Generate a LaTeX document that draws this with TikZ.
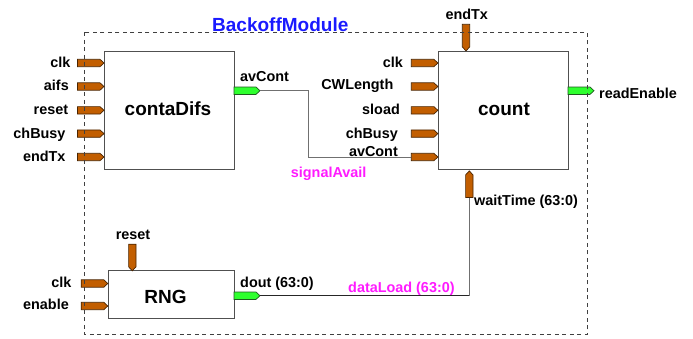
\documentclass[tikz,border=0pt]{standalone}
\usepackage{fontspec}
\setmainfont{Liberation Sans}
\definecolor{portorange}{HTML}{C25E00}
\definecolor{portedge}{HTML}{4A2400}
\definecolor{portgreen}{HTML}{2EFF2E}
\definecolor{greenedge}{HTML}{1E5A1E}
\definecolor{boxedge}{HTML}{505050}
\definecolor{wiregray}{HTML}{707070}
\definecolor{titleblue}{HTML}{1A1AFF}
\definecolor{sigmagenta}{HTML}{FF1AFF}
\tikzset{
  portin/.style={fill=portorange, draw=portedge, line width=0.7pt},
  portout/.style={fill=portgreen, draw=greenedge, line width=0.7pt},
  inport/.pic={\draw[portin] (-13.3,-3.7) -- (9.3,-3.7) -- (13.3,0) -- (9.3,3.7) -- (-13.3,3.7) -- cycle;
    \coordinate (-tip) at (13.3,0); \coordinate (-tail) at (-13.3,0);},
  outport/.pic={\draw[portout] (-13,-3.7) -- (9,-3.7) -- (13,0) -- (9,3.7) -- (-13,3.7) -- cycle;
    \coordinate (-tip) at (13,0); \coordinate (-tail) at (-13,0);},
  lbl/.style={font=\bfseries\fontsize{14.4}{16}\selectfont, inner sep=0pt},
  bigt/.style={font=\bfseries\fontsize{19}{22}\selectfont, inner sep=0pt},
  sig/.style={lbl, text=sigmagenta},
  blockbox/.style={draw=boxedge, line width=1pt, fill=white, inner sep=0pt},
  wire/.style={draw=wiregray, line width=1pt},
  bwire/.style={draw=black!85, line width=1pt},
  moduleborder/.style={draw=black!75, line width=0.9pt, dash pattern=on 4pt off 3.5pt},
}
\begin{document}
\begin{tikzpicture}[x=1pt,y=-1pt]
\useasboundingbox (0,0) rectangle (693,338);

% blocks
\node[blockbox, minimum width=130pt, minimum height=117.6pt] (cd) at (169.3,110.5) {};
\node[blockbox, minimum width=130pt, minimum height=117.6pt] (cnt) at (503.3,110.5) {};
\node[blockbox, minimum width=126pt, minimum height=47.6pt] (rng) at (171.3,294.5) {};
\node[bigt, anchor=base] (cdt) at (168,115) {contaDifs};
\node[bigt, anchor=base] (cntt) at (504,115) {count};
\node[bigt, anchor=base] (rngt) at (165.5,303.3) {RNG};

% title
\node[bigt, text=titleblue, anchor=base west] (title) at (212,31.7) {BackoffModule};

% contaDifs inputs
\pic (cdclk) at (90.7,63) {inport};
\pic (cdaifs) at (90.7,86.5) {inport};
\pic (cdreset) at (90.7,110.3) {inport};
\pic (cdbusy) at (90.7,133.6) {inport};
\pic (cdend) at (90.7,157) {inport};
\node[lbl, anchor=base east] (lcdclk) at (70.7,67.3) {clk};
\node[lbl, anchor=base east] (lcdaifs) at (69,90.8) {aifs};
\node[lbl, anchor=base east] (lcdreset) at (68.3,114.8) {reset};
\node[lbl, anchor=base east] (lcdbusy) at (65.7,138) {chBusy};
\node[lbl, anchor=base east] (lcdend) at (65.7,161.8) {endTx};

% contaDifs output
\pic (cdav) at (247,90.7) {outport};
\node[lbl, anchor=base west] (lcdav) at (240,81) {avCont};

% count inputs
\pic (cclk) at (424.6,63) {inport};
\pic (ccw) at (424.6,86.5) {inport};
\pic (csload) at (424.6,110.3) {inport};
\pic (cbusy) at (424.6,133.6) {inport};
\pic (cav) at (424.6,157) {inport};
\node[lbl, anchor=base east] (lcclk) at (403,67) {clk};
\node[lbl, anchor=base east] (lccw) at (393.5,89.5) {CWLength};
\node[lbl, anchor=base east] (lcsload) at (400,114.5) {sload};
\node[lbl, anchor=base east] (lcbusy) at (398,138) {chBusy};
\node[lbl, anchor=base east] (lcav) at (398,156) {avCont};

% count top / bottom / right
\pic[rotate=-90] (cend) at (466,37.6) {inport};
\node[lbl, anchor=base] (lcend) at (466.7,19.3) {endTx};
\pic[rotate=90] (cwait) at (469.3,184.2) {inport};
\node[lbl, anchor=base west] (lcwait) at (474,205.5) {waitTime (63:0)};
\pic (cread) at (581,90.7) {outport};
\node[lbl, anchor=base west] (lcread) at (599,98.5) {readEnable};

% RNG ports
\pic (rclk) at (94.5,283.5) {inport};
\pic (ren) at (94.5,306) {inport};
\node[lbl, anchor=base east] (lrclk) at (71.7,287.5) {clk};
\node[lbl, anchor=base east] (lren) at (69,309.5) {enable};
\pic[rotate=-90] (rreset) at (132.3,257.5) {inport};
\node[lbl, anchor=base] (lrreset) at (133,239.3) {reset};
\pic (rdout) at (247,295.7) {outport};
\node[lbl, anchor=base west] (lrdout) at (240,287) {dout (63:0)};

% wires
\draw[wire] (cdav-tip) -- ++(48.7,0) |- (cav-tail);
\draw[bwire] (rdout-tip) -- (cwait-tail |- rdout-tip);
\draw[wire] (cwait-tail |- rdout-tip) -- (cwait-tail);
\node[sig, anchor=base west] (lsig) at (290.7,177.2) {signalAvail};
\node[sig, anchor=base west] (ldata) at (348,292) {dataLoad (63:0)};

% module border
\draw[moduleborder] (84.3,32.3) rectangle (587.3,334.3);
\end{tikzpicture}
\end{document}
